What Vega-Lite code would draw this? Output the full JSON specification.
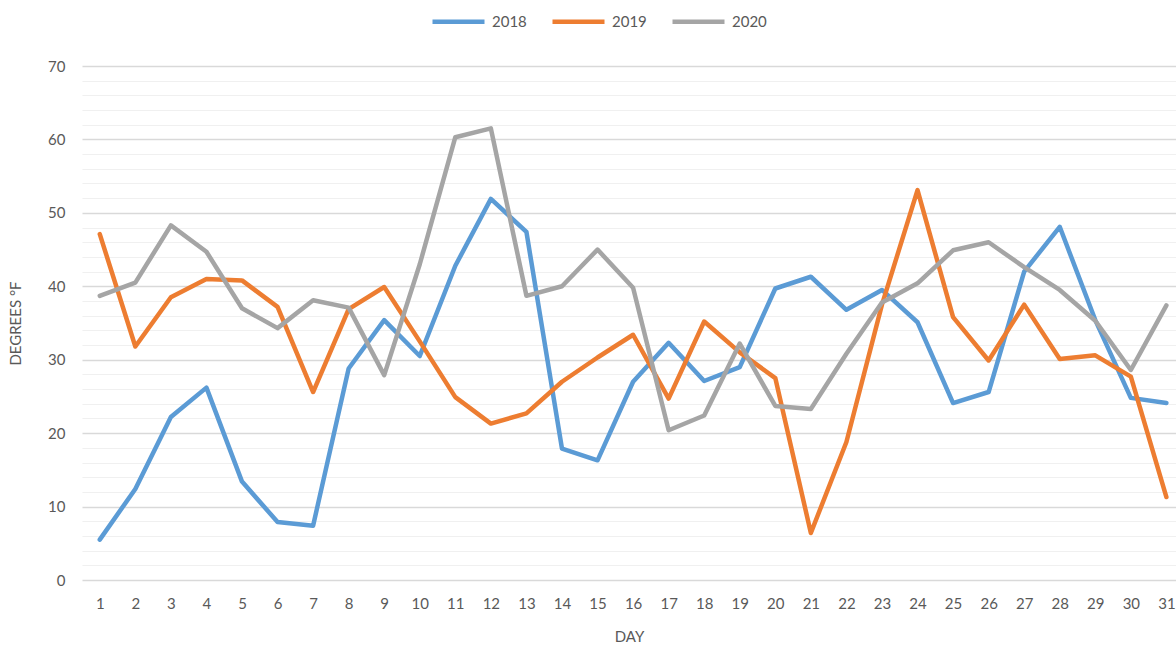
{
  "$schema": "https://vega.github.io/schema/vega-lite/v6.json",
  "autosize": "none",
  "width": 1094,
  "height": 514,
  "padding": {"left": 82, "top": 66, "right": 0, "bottom": 73},
  "background": "#ffffff",
  "config": {
    "view": {"stroke": null},
    "font": "Lato",
    "axis": {"labelFont": "Lato", "titleFont": "Lato", "labelColor": "#595959", "titleColor": "#595959", "labelFontSize": 15, "titleFontSize": 15, "titleFontWeight": "normal"},
    "legend": {"labelFont": "Lato", "labelColor": "#595959", "labelFontSize": 15}
  },
  "data": {
    "values": [
      {"day": 1, "year": "2018", "temp": 5.5},
      {"day": 2, "year": "2018", "temp": 12.4},
      {"day": 3, "year": "2018", "temp": 22.2},
      {"day": 4, "year": "2018", "temp": 26.2},
      {"day": 5, "year": "2018", "temp": 13.4},
      {"day": 6, "year": "2018", "temp": 7.9},
      {"day": 7, "year": "2018", "temp": 7.4},
      {"day": 8, "year": "2018", "temp": 28.8},
      {"day": 9, "year": "2018", "temp": 35.4},
      {"day": 10, "year": "2018", "temp": 30.5},
      {"day": 11, "year": "2018", "temp": 42.8},
      {"day": 12, "year": "2018", "temp": 51.9},
      {"day": 13, "year": "2018", "temp": 47.4},
      {"day": 14, "year": "2018", "temp": 17.9},
      {"day": 15, "year": "2018", "temp": 16.3},
      {"day": 16, "year": "2018", "temp": 27.0},
      {"day": 17, "year": "2018", "temp": 32.3},
      {"day": 18, "year": "2018", "temp": 27.1},
      {"day": 19, "year": "2018", "temp": 29.0},
      {"day": 20, "year": "2018", "temp": 39.7},
      {"day": 21, "year": "2018", "temp": 41.3},
      {"day": 22, "year": "2018", "temp": 36.8},
      {"day": 23, "year": "2018", "temp": 39.5},
      {"day": 24, "year": "2018", "temp": 35.1},
      {"day": 25, "year": "2018", "temp": 24.1},
      {"day": 26, "year": "2018", "temp": 25.6},
      {"day": 27, "year": "2018", "temp": 42.0},
      {"day": 28, "year": "2018", "temp": 48.1},
      {"day": 29, "year": "2018", "temp": 35.4},
      {"day": 30, "year": "2018", "temp": 24.8},
      {"day": 31, "year": "2018", "temp": 24.1},
      {"day": 1, "year": "2019", "temp": 47.1},
      {"day": 2, "year": "2019", "temp": 31.8},
      {"day": 3, "year": "2019", "temp": 38.5},
      {"day": 4, "year": "2019", "temp": 41.0},
      {"day": 5, "year": "2019", "temp": 40.8},
      {"day": 6, "year": "2019", "temp": 37.2},
      {"day": 7, "year": "2019", "temp": 25.6},
      {"day": 8, "year": "2019", "temp": 36.9},
      {"day": 9, "year": "2019", "temp": 39.9},
      {"day": 10, "year": "2019", "temp": 32.5},
      {"day": 11, "year": "2019", "temp": 24.9},
      {"day": 12, "year": "2019", "temp": 21.3},
      {"day": 13, "year": "2019", "temp": 22.7},
      {"day": 14, "year": "2019", "temp": 27.0},
      {"day": 15, "year": "2019", "temp": 30.3},
      {"day": 16, "year": "2019", "temp": 33.4},
      {"day": 17, "year": "2019", "temp": 24.7},
      {"day": 18, "year": "2019", "temp": 35.2},
      {"day": 19, "year": "2019", "temp": 31.0},
      {"day": 20, "year": "2019", "temp": 27.5},
      {"day": 21, "year": "2019", "temp": 6.4},
      {"day": 22, "year": "2019", "temp": 18.8},
      {"day": 23, "year": "2019", "temp": 37.5},
      {"day": 24, "year": "2019", "temp": 53.1},
      {"day": 25, "year": "2019", "temp": 35.8},
      {"day": 26, "year": "2019", "temp": 29.9},
      {"day": 27, "year": "2019", "temp": 37.5},
      {"day": 28, "year": "2019", "temp": 30.1},
      {"day": 29, "year": "2019", "temp": 30.6},
      {"day": 30, "year": "2019", "temp": 27.7},
      {"day": 31, "year": "2019", "temp": 11.3},
      {"day": 1, "year": "2020", "temp": 38.7},
      {"day": 2, "year": "2020", "temp": 40.5},
      {"day": 3, "year": "2020", "temp": 48.3},
      {"day": 4, "year": "2020", "temp": 44.7},
      {"day": 5, "year": "2020", "temp": 37.0},
      {"day": 6, "year": "2020", "temp": 34.3},
      {"day": 7, "year": "2020", "temp": 38.1},
      {"day": 8, "year": "2020", "temp": 37.1},
      {"day": 9, "year": "2020", "temp": 27.9},
      {"day": 10, "year": "2020", "temp": 43.0},
      {"day": 11, "year": "2020", "temp": 60.3},
      {"day": 12, "year": "2020", "temp": 61.5},
      {"day": 13, "year": "2020", "temp": 38.7},
      {"day": 14, "year": "2020", "temp": 40.0},
      {"day": 15, "year": "2020", "temp": 45.0},
      {"day": 16, "year": "2020", "temp": 39.8},
      {"day": 17, "year": "2020", "temp": 20.4},
      {"day": 18, "year": "2020", "temp": 22.4},
      {"day": 19, "year": "2020", "temp": 32.2},
      {"day": 20, "year": "2020", "temp": 23.7},
      {"day": 21, "year": "2020", "temp": 23.3},
      {"day": 22, "year": "2020", "temp": 30.8},
      {"day": 23, "year": "2020", "temp": 37.8},
      {"day": 24, "year": "2020", "temp": 40.4},
      {"day": 25, "year": "2020", "temp": 44.9},
      {"day": 26, "year": "2020", "temp": 46.0},
      {"day": 27, "year": "2020", "temp": 42.6},
      {"day": 28, "year": "2020", "temp": 39.5},
      {"day": 29, "year": "2020", "temp": 35.3},
      {"day": 30, "year": "2020", "temp": 28.6},
      {"day": 31, "year": "2020", "temp": 37.4}
    ]
  },
  "mark": {"type": "line", "strokeWidth": 4.5, "strokeJoin": "round", "strokeCap": "round", "clip": true},
  "encoding": {
    "x": {
      "field": "day", "type": "quantitative",
      "scale": {"domain": [0.5, 31.27], "nice": false, "zero": false},
      "axis": {
        "title": "DAY", "values": [1,2,3,4,5,6,7,8,9,10,11,12,13,14,15,16,17,18,19,20,21,22,23,24,25,26,27,28,29,30,31],
        "grid": false, "ticks": false, "domain": false, "labelPadding": 16, "titlePadding": 18, "labelFlush": false
      }
    },
    "y": {
      "field": "temp", "type": "quantitative",
      "scale": {"domain": [0, 70], "nice": false, "zero": true},
      "axis": {
        "title": "DEGREES °F",
        "values": [0,2,4,6,8,10,12,14,16,18,20,22,24,26,28,30,32,34,36,38,40,42,44,46,48,50,52,54,56,58,60,62,64,66,68,70],
        "labelExpr": "datum.value % 10 === 0 ? datum.label : ''",
        "grid": true,
        "gridColor": {"condition": {"test": "datum.value % 10 === 0", "value": "#d9d9d9"}, "value": "#f0f0f0"},
        "gridWidth": {"condition": {"test": "datum.value % 10 === 0", "value": 1.5}, "value": 1.2},
        "ticks": false, "domain": false, "labelPadding": 17, "titlePadding": 24
      }
    },
    "color": {
      "field": "year", "type": "nominal",
      "scale": {"domain": ["2018", "2019", "2020"], "range": ["#5b9bd5", "#ed7d31", "#a5a5a5"]},
      "legend": {
        "title": null, "orient": "none", "direction": "horizontal",
        "legendX": 348, "legendY": -73,
        "symbolType": "stroke", "symbolSize": 2704, "symbolStrokeWidth": 4.5,
        "labelOffset": 5, "columnPadding": 16
      }
    }
  }
}
